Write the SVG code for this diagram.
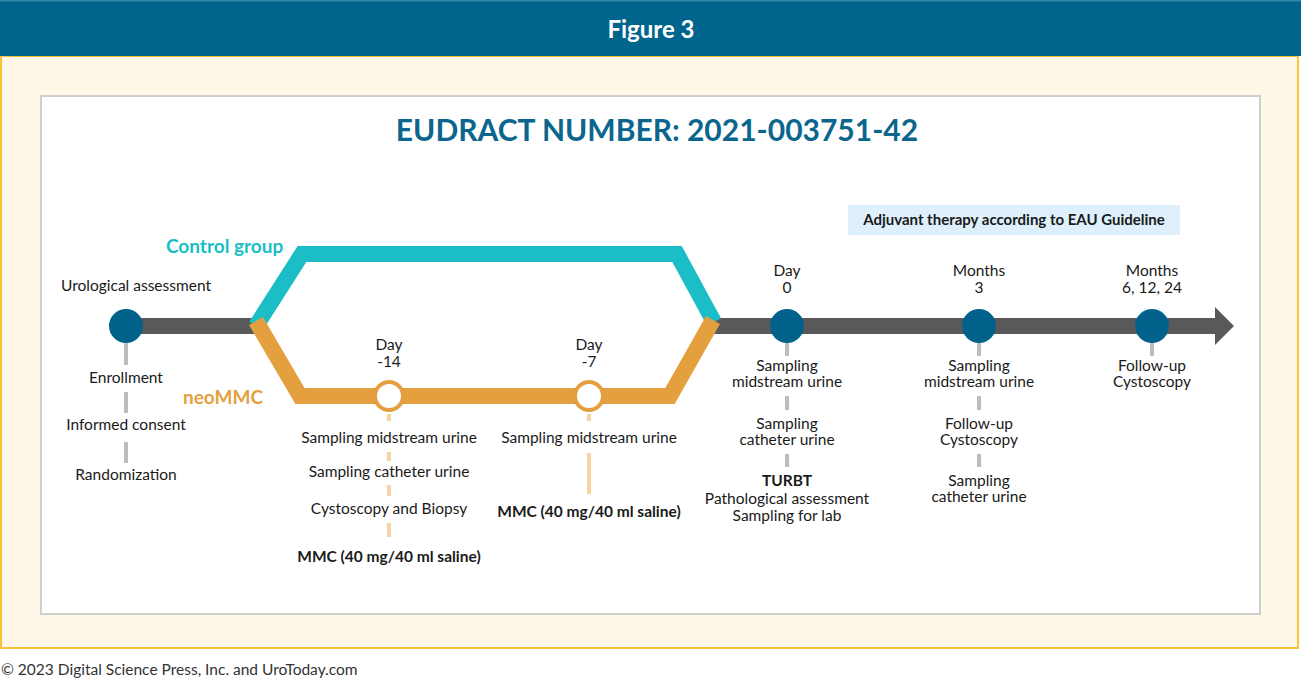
<svg xmlns="http://www.w3.org/2000/svg" width="1301" height="680" viewBox="0 0 1301 680">
<style>
text{font-family:Lato,"Open Sans","Liberation Sans",sans-serif;fill:#1a1a1a;font-size:15.5px;text-anchor:middle}
.b{font-weight:bold}
.lbl{font-size:19px;font-weight:bold;text-anchor:start}
.dg{stroke:#BDBDBD;stroke-width:4}
.do{stroke:#F6D4A2;stroke-width:4}
.node{fill:#00628A}
.onode{fill:#fff;stroke:#E49F3E;stroke-width:4}
</style>
<rect x="0" y="0" width="1301" height="680" fill="#fff"/>
<rect x="1" y="56" width="1297" height="592" fill="#FFF8E9" stroke="#F8C53A" stroke-width="2"/>
<rect x="0" y="0" width="1301" height="56" fill="#00658C"/>
<rect x="0" y="0" width="1301" height="1.5" fill="#2E87A8"/>
<text x="651" y="38" style="fill:#fff;font-size:24px;font-weight:bold">Figure 3</text>
<rect x="41" y="96" width="1219" height="518" fill="#fff" stroke="#CFCFCF" stroke-width="2"/>
<text x="657" y="141" style="fill:#0B668D;font-size:30px;font-weight:bold">EUDRACT NUMBER: 2021-003751-42</text>
<g id="adjuvant"><rect x="848" y="205" width="332" height="30" fill="#DDF0FB"/><text x="1014" y="225" class="b" style="font-size:15px">Adjuvant therapy according to EAU Guideline</text></g>
<g id="connectors">
<path d="M126 326 H255 M710 326 H1216" stroke="#595959" stroke-width="16" fill="none"/>
<polygon points="1215,307 1234,326 1215,345" fill="#595959"/>
<path d="M256 326 L302 254 L677 254 L714 322" stroke="#1BBEC6" stroke-width="16" fill="none" stroke-linejoin="miter"/>
<path d="M256 321 L300 396 L670 396 L713 320" stroke="#E49F3E" stroke-width="16" fill="none" stroke-linejoin="miter"/>
<path class="dg" d="M126 343 V365 M126 392 V413 M126 442 V463"/>
<path class="do" d="M389 414 V421 M389 452 V461 M389 485 V496 M389 523 V537"/>
<path class="do" d="M589 414 V421 M589 453 V494"/>
<path class="dg" d="M787 343 V356 M787 396 V410 M787 454 V467"/>
<path class="dg" d="M979 343 V356 M979 396 V410 M979 454 V467"/>
<path class="dg" d="M1152 343 V356"/>
</g>
<g id="control-label"><text x="166" y="253" class="lbl" style="fill:#1BBEC6">Control group</text></g>
<g id="neommc-label"><text x="183" y="404" class="lbl" style="fill:#E49F3E">neoMMC</text></g>
<g id="start">
<circle class="node" cx="126" cy="326" r="17"/>
<text x="136" y="291">Urological assessment</text>
<text x="126" y="383">Enrollment</text>
<text x="126" y="430">Informed consent</text>
<text x="126" y="480">Randomization</text>
</g>
<g id="day-14">
<circle class="onode" cx="389" cy="396" r="14"/>
<text x="389" y="350">Day</text><text x="389" y="367">-14</text>
<text x="389" y="443">Sampling midstream urine</text>
<text x="389" y="477">Sampling catheter urine</text>
<text x="389" y="514">Cystoscopy and Biopsy</text>
<text x="389" y="562" class="b">MMC (40 mg/40 ml saline)</text>
</g>
<g id="day-7">
<circle class="onode" cx="589" cy="396" r="14"/>
<text x="589" y="350">Day</text><text x="589" y="367">-7</text>
<text x="589" y="443">Sampling midstream urine</text>
<text x="589" y="517" class="b">MMC (40 mg/40 ml saline)</text>
</g>
<g id="day0">
<circle class="node" cx="787" cy="326" r="17"/>
<text x="787" y="276">Day</text><text x="787" y="293">0</text>
<text x="787" y="371">Sampling</text><text x="787" y="387">midstream urine</text>
<text x="787" y="429">Sampling</text><text x="787" y="445">catheter urine</text>
<text x="787" y="486" class="b">TURBT</text>
<text x="787" y="504">Pathological assessment</text>
<text x="787" y="521">Sampling for lab</text>
</g>
<g id="month3">
<circle class="node" cx="979" cy="326" r="17"/>
<text x="979" y="276">Months</text><text x="979" y="293">3</text>
<text x="979" y="371">Sampling</text><text x="979" y="387">midstream urine</text>
<text x="979" y="429">Follow-up</text><text x="979" y="445">Cystoscopy</text>
<text x="979" y="486">Sampling</text><text x="979" y="502">catheter urine</text>
</g>
<g id="months-6-12-24">
<circle class="node" cx="1152" cy="326" r="17"/>
<text x="1152" y="276">Months</text><text x="1152" y="293">6, 12, 24</text>
<text x="1152" y="371">Follow-up</text><text x="1152" y="387">Cystoscopy</text>
</g>
<text x="1" y="675" style="text-anchor:start;fill:#333">© 2023 Digital Science Press, Inc. and UroToday.com</text>
</svg>
